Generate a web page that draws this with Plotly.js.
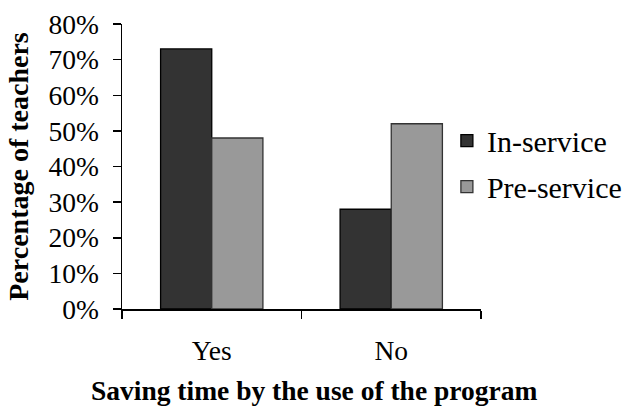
<!DOCTYPE html>
<html>
<head>
<meta charset="utf-8">
<script src="https://cdn.plot.ly/plotly-3.0.1.min.js"></script>
<style>html,body{margin:0;padding:0;background:#fff;}#chart{width:629px;height:412px;}</style>
</head>
<body>
<div id="chart"></div>
<script>
const categories = ["Yes", "No"];
const inService = [73, 28];
const preService = [48, 52];
const seriesNames = ["In-service", "Pre-service"];
const yTicks = [0, 10, 20, 30, 40, 50, 60, 70, 80];
const yTickLabels = ["0%", "10%", "20%", "30%", "40%", "50%", "60%", "70%", "80%"];
const xTitle = "Saving time by the use of the program";
const yTitle = "Percentage of teachers";

const FONT = "'Liberation Serif', 'Times New Roman', serif";

const traces = [
  {
    type: "bar", name: seriesNames[0], x: categories, y: inService, legendgroup: "a",
    marker: {color: "#333333", line: {color: "#000000", width: 1.3}},
    hoverinfo: "none"
  },
  {
    type: "bar", name: seriesNames[1], x: categories, y: preService, legendgroup: "b",
    marker: {color: "#999999", line: {color: "#333333", width: 1.3}},
    hoverinfo: "none"
  }
];

const layout = {
  width: 629, height: 412,
  margin: {l: 122, r: 148, t: 24, b: 103, autoexpand: false},
  paper_bgcolor: "#ffffff", plot_bgcolor: "#ffffff",
  font: {family: FONT, size: 27.5, color: "#000"},
  barmode: "group", bargap: 0.43, bargroupgap: 0,
  showlegend: true,
  legend: {
    x: 0.905, xanchor: "left", y: 0.51, yanchor: "middle",
    font: {family: FONT, size: 30, color: "#000"},
    bgcolor: "rgba(0,0,0,0)", borderwidth: 0, tracegroupgap: 4,
    traceorder: "grouped"
  },
  xaxis: {
    type: "category",
    showline: true, linecolor: "#000", linewidth: 1.5,
    ticks: "outside", tickson: "boundaries", ticklen: 8, tickwidth: 1.5, tickcolor: "#000",
    showgrid: false, zeroline: false,
    tickfont: {family: FONT, size: 27.5, color: "#000"},
    ticklabelstandoff: 16,
    automargin: false
  },
  yaxis: {
    range: [0, 80], tickmode: "array", tickvals: yTicks, ticktext: yTickLabels,
    showline: true, linecolor: "#000", linewidth: 1.5,
    ticks: "outside", ticklen: 8, tickwidth: 1.5, tickcolor: "#000",
    showgrid: false, zeroline: false,
    tickfont: {family: FONT, size: 27.5, color: "#000"},
    ticklabelstandoff: 8,
    automargin: false,
    title: {text: "<b>" + yTitle + "</b>", font: {family: FONT, size: 28, color: "#000"}, standoff: 12}
  },
  annotations: [
    {
      text: "<b>" + xTitle + "</b>", xref: "paper", yref: "paper",
      x: 0.535, y: -0.285, xanchor: "center", yanchor: "middle", showarrow: false,
      font: {family: FONT, size: 27.5, color: "#000"}
    }
  ]
};

Plotly.newPlot("chart", traces, layout, {displayModeBar: false, staticPlot: true});
</script>
</body>
</html>
